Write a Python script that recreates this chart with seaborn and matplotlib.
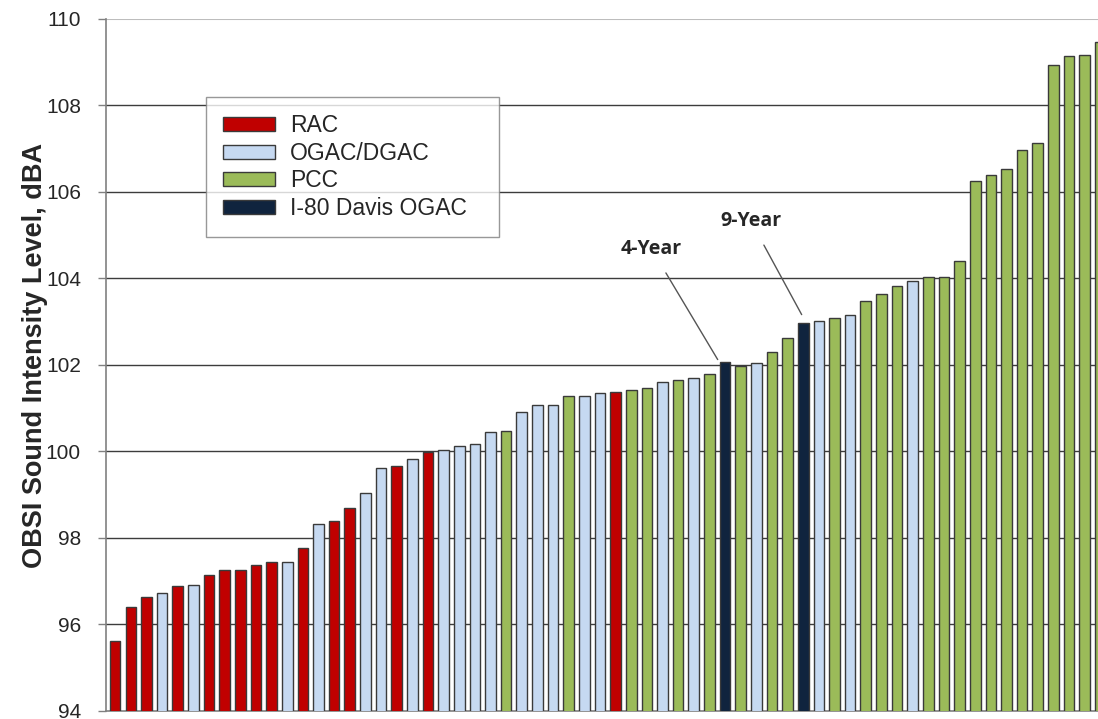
import matplotlib
matplotlib.use("Agg")
import matplotlib.pyplot as plt
from matplotlib.patches import Patch
import pandas as pd
import seaborn as sns

# categories in legend order and their colours
surfaces = ['RAC', 'OGAC/DGAC', 'PCC', 'I-80 Davis OGAC']
colors = ['#C00000', '#C6D9F1', '#9BBB59', '#10243E']

# bar codes: R = RAC, O = OGAC/DGAC, P = PCC, D = I-80 Davis OGAC
surface_codes = list(
    'RRRORORRRRRORORRO'
    'OROROOOOPOOOPOOR'
    'PPOPOPDPOPPDOPOP'
    'PPOPPPPPPPPPPPP'
)
obsi_dba = [
    95.60, 96.40, 96.63, 96.72, 96.87, 96.91, 97.13, 97.25, 97.25, 97.36,
    97.43, 97.44, 97.77, 98.31, 98.38, 98.69, 99.04, 99.62, 99.66, 99.83,
    99.98, 100.02, 100.12, 100.17, 100.45, 100.47, 100.90, 101.06, 101.08, 101.27,
    101.27, 101.34, 101.36, 101.41, 101.47, 101.59, 101.65, 101.70, 101.78, 102.06,
    101.98, 102.03, 102.29, 102.61, 102.97, 103.02, 103.08, 103.16, 103.47, 103.63,
    103.82, 103.94, 104.03, 104.04, 104.39, 106.26, 106.38, 106.54, 106.98, 107.14,
    108.93, 109.14, 109.16, 109.47,
]
yticks = [94, 96, 98, 100, 102, 104, 106, 108, 110]

code_map = {'R': 'RAC', 'O': 'OGAC/DGAC', 'P': 'PCC', 'D': 'I-80 Davis OGAC'}
df = pd.DataFrame({
    'site': range(len(obsi_dba)),
    'level': obsi_dba,
    'surface': [code_map[c] for c in surface_codes],
})

sns.set_style('white')
plt.rcParams['font.family'] = ['Liberation Sans', 'DejaVu Sans']

fig = plt.figure(figsize=(10.98, 7.19), dpi=100)
ax = fig.add_axes([0.0965, 0.0118, 0.9035, 0.9618])

sns.barplot(data=df, x='site', y='level', hue='surface', hue_order=surfaces,
            palette=dict(zip(surfaces, colors)), saturation=1, dodge=False,
            width=0.68, edgecolor='#3a3a3a', linewidth=1.0, legend=False,
            ax=ax, zorder=3)

ax.set_ylim(94, 110)
ax.set_xlim(-0.59, 62.85)
ax.set_yticks(yticks)
ax.set_xticks([])
ax.set_xlabel('')
ax.set_ylabel('OBSI Sound Intensity Level, dBA', fontsize=19.5, fontweight='bold')
ax.yaxis.set_label_coords(-0.058, 0.514)
ax.tick_params(axis='y', labelsize=15, direction='out', length=6, width=1,
               color='#808080', left=True, pad=12)

for y in yticks[1:-1]:
    ax.axhline(y, color='#3c3c3c', lw=1.0, zorder=1)
ax.axhline(110, color='#bdbdbd', lw=1.5, zorder=1)

for side in ['top', 'right']:
    ax.spines[side].set_visible(False)
for side in ['left', 'bottom']:
    ax.spines[side].set_color('#808080')
    ax.spines[side].set_linewidth(1.2)

handles = [Patch(facecolor=c, edgecolor='#3a3a3a', linewidth=1.0) for c in colors]
leg = ax.legend(handles, surfaces, loc='upper left',
                bbox_to_anchor=(0.1008, 0.690, 0.2954, 0.197), mode='expand',
                fontsize=16.5, frameon=True, fancybox=False, borderpad=0.75,
                labelspacing=0.2, handlelength=2.27, handleheight=0.57,
                handletextpad=0.65, borderaxespad=0)
leg.get_frame().set_edgecolor('#7f7f7f')
leg.get_frame().set_linewidth(1.0)
leg.set_zorder(5)

ann_font = dict(fontsize=14, fontweight='bold', family=['Open Sans', 'DejaVu Sans'],
                color='#262626', ha='center', va='center')
ax.annotate('4-Year', xy=(38.53, 102.12), xytext=(34.3, 104.68), **ann_font,
            arrowprops=dict(arrowstyle='-', color='#555555', lw=1.0,
                            shrinkA=9, shrinkB=0))
ax.annotate('9-Year', xy=(43.9, 103.16), xytext=(40.64, 105.33), **ann_font,
            arrowprops=dict(arrowstyle='-', color='#555555', lw=1.0,
                            shrinkA=9, shrinkB=0))

fig.savefig('out.png', dpi=100)
